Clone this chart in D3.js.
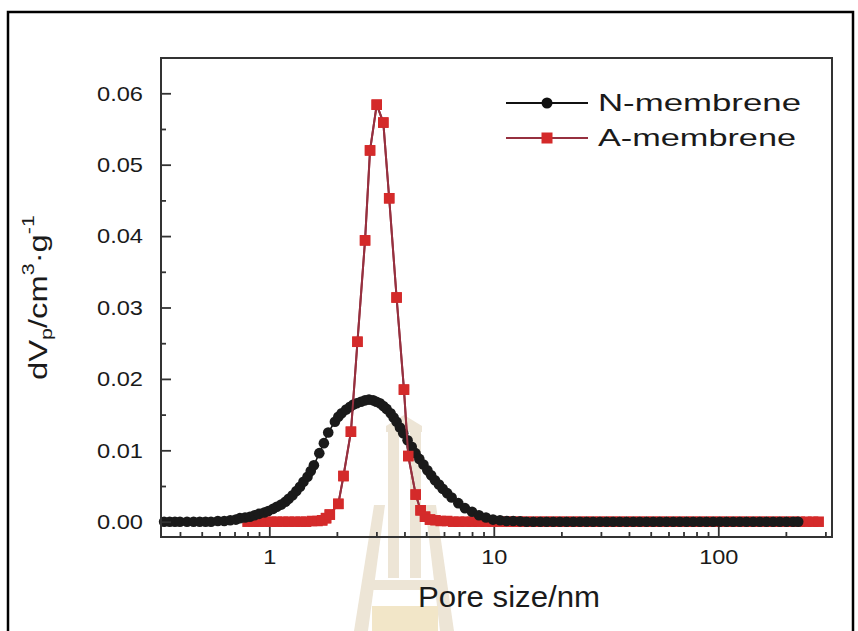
<!DOCTYPE html>
<html><head><meta charset="utf-8">
<script src="https://cdn.jsdelivr.net/npm/d3@7"></script>
<style>
body{margin:0;background:#fff}
svg{display:block}
text{font-family:Arial,"Liberation Sans",sans-serif;fill:#1a1a1a}
</style>
</head><body>
<svg id="chart" width="858" height="631"></svg>
<script>
// ---------- data ----------
const nSizes = [
  0.34,0.36,0.38,0.40,0.43,0.46,0.49,0.52,0.55,0.59,0.63,0.67,0.71,
  0.74,0.78,0.82,0.86,0.90,0.95,0.99,1.04,1.08,1.13,1.18,1.22,1.27,1.32,1.37,1.42,1.48,1.53,1.58,
  1.67,1.75,1.83,1.96,2.03,2.10,2.20,2.29,2.37,2.45,2.56,2.67,2.78,2.90,3.00,3.11,3.22,3.33,3.47,3.58,3.69,3.82,3.95,
  4.13,4.31,4.48,4.66,4.86,5.06,5.26,5.47,5.70,5.92,6.20,6.49,6.95,7.44,8.00,8.59,9.23,9.92,10.66,11.4,12.2,13.1,
  14.0,15.0,16.1,17.2,18.4,19.7,21.1,22.6,24.2,25.9,27.7,29.7,31.8,34.0,36.4,39.0,41.8,44.7,47.9,51.3,54.9,
  58.8,63.0,67.4,72.2,77.3,82.8,88.6,94.9,101.6,108.8,116.5,124.7,133.5,143.0,153.1,163.9,175.5,187.9,201.2,215.4,227
];
const nValues = [
  0,0,0,0,0,0,0,0,0,0.0001,0.0001,0.0002,0.0003,
  0.0005,0.0006,0.0007,0.0009,0.0011,0.0013,0.0015,0.0018,0.0021,0.0024,0.0028,0.0032,0.0037,0.0043,0.0049,0.0056,0.0063,0.0071,0.0079,
  0.0096,0.0110,0.0125,0.0140,0.0147,0.0152,0.0157,0.0161,0.0164,0.0166,0.0168,0.0170,0.0171,0.0170,0.0168,0.0166,0.0162,0.0158,0.0152,0.0146,0.0140,0.0132,0.0124,
  0.0114,0.0105,0.0096,0.0088,0.0080,0.0072,0.0065,0.0058,0.0052,0.0046,0.0040,0.0034,0.0026,0.0019,0.0014,0.0009,0.0006,0.0003,0.0002,0.0001,0.0001,0.00005,
  0,0,0,0,0,0,0,0,0,0,0,0,0,0,0,0,0,0,0,0,0,
  0,0,0,0,0,0,0,0,0,0,0,0,0,0,0,0,0,0,0,0,0
];
const aSizes = [
  0.80,0.85,0.90,0.96,1.02,1.08,1.15,1.22,1.30,1.38,1.46,1.55,1.64,1.72,1.79,1.86,
  2.03,2.14,2.31,2.47,2.67,2.81,3.01,3.22,3.42,3.69,3.98,4.16,4.49,4.72,4.94,
  5.20,5.50,5.80,6.20,6.60,7.00,7.50,8.00,8.60,9.20,9.90,10.6,11.4,12.2,13.1,14.0,15.0,16.1,17.2,18.4,
  19.7,21.1,22.6,24.2,25.9,27.7,29.7,31.8,34.0,36.4,39.0,41.8,44.7,47.9,51.3,54.9,58.8,63.0,67.4,72.2,
  77.3,82.8,88.6,94.9,101.6,108.8,116.5,124.7,133.5,143.0,153.1,163.9,175.5,187.9,201.2,215.4,230.6,246.9,264.3,280
];
const aValues = [
  0,0,0,0,0,0,0,0,0,0,0,0.0001,0.0001,0.0002,0.0005,0.0010,
  0.0025,0.0064,0.0126,0.0252,0.0394,0.0520,0.0584,0.0559,0.0453,0.0314,0.0185,0.0092,0.0038,0.0016,0.0007,
  0.0003,0.0002,0.0001,0.0001,0,0,0,0,0,0,0,0,0,0,0,0,0,0,0,0,
  0,0,0,0,0,0,0,0,0,0,0,0,0,0,0,0,0,0,0,0,
  0,0,0,0,0,0,0,0,0,0,0,0,0,0,0,0,0,0,0,0
];
const seriesNames = ["N-membrene","A-membrene"];
const yTickValues = [0,0.01,0.02,0.03,0.04,0.05,0.06];
const yMinorTicks = [0.005,0.015,0.025,0.035,0.045,0.055];
const xTickValues = [1,10,100];
const xTickLabels = ["1","10","100"];
const xMinorTicks = [0.4,0.5,0.6,0.7,0.8,0.9,2,3,4,5,6,7,8,9,20,30,40,50,60,70,80,90,200,300];
const xTitle = "Pore size/nm";

// ---------- setup ----------
const svg = d3.select("#chart");
const L = 161, R = 832, T = 58, B = 537;
const x = d3.scaleLog().domain([0.3293, 321]).range([L, R]);
const y = d3.scaleLinear().domain([-0.00214, 0.06494]).range([B, T]);

const nData = nSizes.map((s,i)=>({s, v:nValues[i]}));
const aData = aSizes.map((s,i)=>({s, v:aValues[i]}));

// outer frame
svg.append("rect").attr("x",8).attr("y",12).attr("width",845).attr("height",660)
  .attr("fill","none").attr("stroke","#000").attr("stroke-width",2.5);

// watermark (faint beige emblem)
const wm = svg.append("g").attr("fill","#ede5d6");
wm.append("polygon").attr("points","386,426 404,415 422,426 422,432 386,432");
wm.append("rect").attr("x",388).attr("y",428).attr("width",11).attr("height",150);
wm.append("rect").attr("x",410).attr("y",428).attr("width",11).attr("height",150);
wm.append("polygon").attr("points","374,505 385,505 368,631 354,631");
wm.append("polygon").attr("points","425,505 436,505 454,631 440,631");
wm.append("rect").attr("x",370).attr("y",580).attr("width",70).attr("height",10);
wm.append("rect").attr("x",372).attr("y",606).attr("width",66).attr("height",25).attr("fill","#f2e6c8");

// ---------- series ----------
const line = d3.line().x(d=>x(d.s)).y(d=>y(d.v));
const redLine = "#96303f", redFill = "#d42a2a";
const sq = 10.5;

function drawRed(data){
  const g = svg.append("g");
  g.append("path").datum(data).attr("d",line).attr("fill","none")
    .attr("stroke",redLine).attr("stroke-width",2);
  g.selectAll("rect").data(data).join("rect")
    .attr("x",d=>x(d.s)-sq/2).attr("y",d=>y(d.v)-sq/2)
    .attr("width",sq).attr("height",sq).attr("fill",redFill);
}
// A-membrene full series (below)
drawRed(aData);

// N-membrene
const gN = svg.append("g");
gN.append("path").datum(nData).attr("d",line).attr("fill","none")
  .attr("stroke","#111").attr("stroke-width",1.5);
gN.selectAll("circle").data(nData).join("circle")
  .attr("cx",d=>x(d.s)).attr("cy",d=>y(d.v)).attr("r",5.3).attr("fill","#1a1a1a");

// A-membrene peak part on top
const peakIdx = aData.map((d,i)=>d.v>0.0004?i:-1).filter(i=>i>=0);
drawRed(aData.slice(peakIdx[0]-1, peakIdx[peakIdx.length-1]+2));

// ---------- axes ----------
svg.append("rect").attr("x",L).attr("y",T).attr("width",R-L).attr("height",B-T)
  .attr("fill","none").attr("stroke","#333").attr("stroke-width",2);

const yAxis = svg.append("g").attr("transform",`translate(${L},0)`)
  .call(d3.axisLeft(y).tickValues(yTickValues).tickSize(-10).tickPadding(18)
    .tickFormat(d3.format(".2f")));
const yMinor = svg.append("g").attr("transform",`translate(${L},0)`)
  .call(d3.axisLeft(y).tickValues(yMinorTicks).tickSize(-5).tickFormat(""));
const xAxis = svg.append("g").attr("transform",`translate(0,${B})`)
  .call(d3.axisBottom(x).tickValues(xTickValues).tickSize(-10).tickPadding(12)
    .tickFormat((d,i)=>xTickLabels[i]));
const xMinor = svg.append("g").attr("transform",`translate(0,${B})`)
  .call(d3.axisBottom(x).tickValues(xMinorTicks).tickSize(-5).tickFormat(""));
[yAxis,yMinor,xAxis,xMinor].forEach(a=>{
  a.select(".domain").remove();
  a.selectAll("line").attr("stroke","#333").attr("stroke-width",1.8);
  a.selectAll("text").attr("font-size",21).attr("fill","#1a1a1a")
    .attr("font-family","Arial, 'Liberation Sans', sans-serif");
});
yAxis.selectAll("text").attr("textLength",46).attr("lengthAdjust","spacingAndGlyphs");
xAxis.selectAll("text").each(function(){
  const t=d3.select(this); t.attr("textLength", this.getComputedTextLength()*1.12)
   .attr("lengthAdjust","spacingAndGlyphs");
});

// ---------- titles ----------
svg.append("text").attr("x",418).attr("y",607).attr("font-size",30)
  .attr("textLength",182).attr("lengthAdjust","spacingAndGlyphs").text(xTitle);

const yt = svg.append("text").attr("transform","translate(47,380) rotate(-90) scale(1.26,1)")
  .attr("font-size",26);
yt.append("tspan").text("dV");
yt.append("tspan").attr("font-size",17).attr("dy",5).text("p");
yt.append("tspan").attr("font-size",26).attr("dy",-5).text("/cm");
yt.append("tspan").attr("font-size",17).attr("dy",-13).text("3");
yt.append("tspan").attr("font-size",26).attr("dy",13).text("\u00B7g");
yt.append("tspan").attr("font-size",17).attr("dy",-13).text("-1");

// ---------- legend ----------
const lg = svg.append("g");
lg.append("line").attr("x1",506).attr("x2",588).attr("y1",103).attr("y2",103)
  .attr("stroke","#111").attr("stroke-width",2);
lg.append("circle").attr("cx",547).attr("cy",103).attr("r",5.5).attr("fill","#111");
lg.append("line").attr("x1",506).attr("x2",588).attr("y1",138).attr("y2",138)
  .attr("stroke",redLine).attr("stroke-width",2);
lg.append("rect").attr("x",547-5.5).attr("y",138-5.5).attr("width",11).attr("height",11).attr("fill",redFill);
lg.append("text").attr("x",598).attr("y",111).attr("font-size",24)
  .attr("textLength",203).attr("lengthAdjust","spacingAndGlyphs").text(seriesNames[0]);
lg.append("text").attr("x",598).attr("y",146).attr("font-size",24)
  .attr("textLength",198).attr("lengthAdjust","spacingAndGlyphs").text(seriesNames[1]);
</script>
</body></html>
